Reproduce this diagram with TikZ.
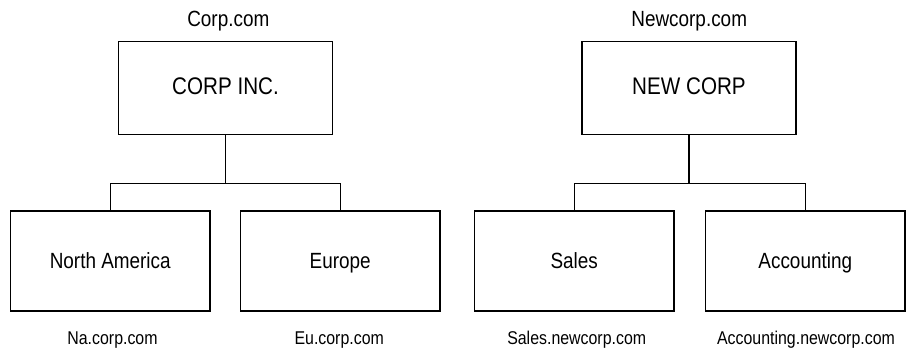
\documentclass[tikz,border=0pt]{standalone}
\usepackage{fontspec}
\newfontfamily\nf[FakeStretch=0.86]{Liberation Sans}
\begin{document}
\begin{tikzpicture}[x=1pt,y=-1pt,
  box/.style={draw, rectangle, line width=1.3pt, inner sep=0pt},
  topbox/.style={box, minimum width=214pt, minimum height=93pt,
    font=\nf\fontsize{24}{28}\selectfont, text height=17pt, text depth=4pt},
  subbox/.style={box, minimum width=199.5pt, minimum height=100pt,
    font=\nf\fontsize{22}{26}\selectfont, text height=15.7pt, text depth=0pt},
  toplabel/.style={anchor=base, inner sep=0pt, font=\nf\fontsize{22}{26}\selectfont},
  botlabel/.style={anchor=base, inner sep=0pt, font=\nf\fontsize{18.5}{22}\selectfont},
  conn/.style={draw, line width=1.3pt}]
\useasboundingbox (0,0) rectangle (906,348);
% left tree
\node[topbox] (corp) at (225.5,88) {CORP INC.};
\node[subbox] (na) at (110.25,261) {North America};
\node[subbox] (eu) at (340.25,261) {Europe};
\path (corp.south) ++(0,48) coordinate (j1);
\path[conn] (corp.south) -- (j1);
\path[conn] (na.north) |- (j1) -| (eu.north);
\node[toplabel] (lcorp) at (228.3,26.7) {Corp.com};
\node[botlabel] (lna) at (112.5,344.5) {Na.corp.com};
\node[botlabel] (leu) at (339.2,344.5) {Eu.corp.com};
% right tree
\node[topbox] (newc) at (689,88) {NEW CORP};
\node[subbox] (sales) at (574.25,261) {Sales};
\node[subbox] (acc) at (805.25,261) {Accounting};
\path (newc.south) ++(0,48) coordinate (j2);
\path[conn] (newc.south) -- (j2);
\path[conn] (sales.north) |- (j2) -| (acc.north);
\node[toplabel] (lnew) at (689.2,26.7) {Newcorp.com};
\node[botlabel] (lsales) at (576.7,344.5) {Sales.newcorp.com};
\node[botlabel] (lacc) at (806,344.5) {Accounting.newcorp.com};
\end{tikzpicture}
\end{document}
